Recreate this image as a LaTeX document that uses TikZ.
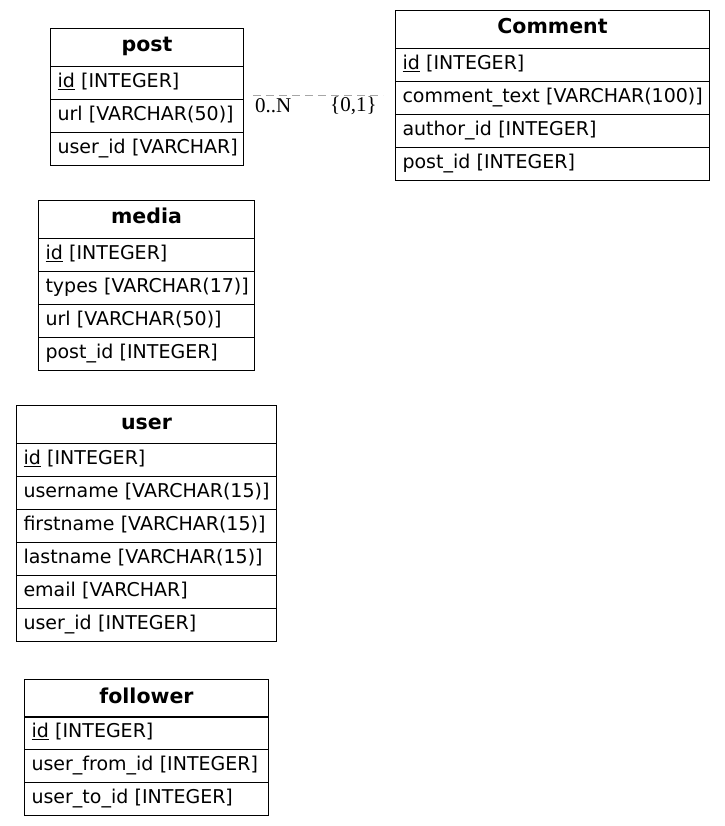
\documentclass[tikz,border=0pt]{standalone}
\usepackage{fontspec}
\setmainfont{DejaVu Sans}
\newfontfamily\lblfont{Liberation Serif}
\begin{document}
\begin{tikzpicture}[x=1pt,y=-1pt,
  cell/.style={draw=black, line width=1pt, anchor=north west, inner ysep=0pt,
    font=\fontsize{19}{22}\selectfont, text height=14pt, text depth=5pt},
  hdr/.style={cell, minimum height=38pt, inner xsep=0pt, align=center, font=\fontsize{20.5}{24}\selectfont\bfseries},
  fld/.style={cell, minimum height=33pt, inner xsep=7pt, align=left},
  rel/.style={draw=gray!70, line width=1pt, dash pattern=on 8pt off 5pt},
  lbl/.style={inner sep=0pt, font=\lblfont\fontsize{21}{24}\selectfont}
]
\useasboundingbox (0,0) rectangle (724,826);
% post
\node[hdr, minimum width=193pt] (post) at (50,28) {post};
\node[fld, text width=179pt] (post1) at (50,66) {\mbox{\underline{id} [INTEGER]}};
\node[fld, text width=179pt] (post2) at (50,99) {\mbox{url [VARCHAR(50)]}};
\node[fld, text width=179pt] (post3) at (50,132) {\mbox{user\_id [VARCHAR]}};
% Comment
\node[hdr, minimum width=314pt] (comment) at (395,10) {Comment};
\node[fld, text width=300pt] (comment1) at (395,48) {\mbox{\underline{id} [INTEGER]}};
\node[fld, text width=300pt] (comment2) at (395,81) {\mbox{comment\_text [VARCHAR(100)]}};
\node[fld, text width=300pt] (comment3) at (395,114) {\mbox{author\_id [INTEGER]}};
\node[fld, text width=300pt] (comment4) at (395,147) {\mbox{post\_id [INTEGER]}};
% media
\node[hdr, minimum width=216pt] (media) at (38,200) {media};
\node[fld, text width=202pt] (media1) at (38,238) {\mbox{\underline{id} [INTEGER]}};
\node[fld, text width=202pt] (media2) at (38,271) {\mbox{types [VARCHAR(17)]}};
\node[fld, text width=202pt] (media3) at (38,304) {\mbox{url [VARCHAR(50)]}};
\node[fld, text width=202pt] (media4) at (38,337) {\mbox{post\_id [INTEGER]}};
% user
\node[hdr, minimum width=260pt] (user) at (16,405) {user};
\node[fld, text width=246pt] (user1) at (16,443) {\mbox{\underline{id} [INTEGER]}};
\node[fld, text width=246pt] (user2) at (16,476) {\mbox{username [VARCHAR(15)]}};
\node[fld, text width=246pt] (user3) at (16,509) {\mbox{firstname [VARCHAR(15)]}};
\node[fld, text width=246pt] (user4) at (16,542) {\mbox{lastname [VARCHAR(15)]}};
\node[fld, text width=246pt] (user5) at (16,575) {\mbox{email [VARCHAR]}};
\node[fld, text width=246pt] (user6) at (16,608) {\mbox{user\_id [INTEGER]}};
% follower
\node[hdr, minimum width=244pt] (follower) at (24,679) {follower};
\node[fld, text width=230pt] (follower1) at (24,716) {\mbox{\underline{id} [INTEGER]}};
\node[fld, text width=230pt] (follower2) at (24,749) {\mbox{user\_from\_id [INTEGER]}};
\node[fld, text width=230pt] (follower3) at (24,782) {\mbox{user\_to\_id [INTEGER]}};
% relation
\coordinate (ca) at (253,96);
\coordinate (cb) at (383,96);
\draw[rel] (ca) -- (cb);
\node[lbl, anchor=west] (l1) at (255,105.5) {0..N};
\node[lbl, anchor=west] (l2) at (330,105.5) {\{0,1\}};
\end{tikzpicture}
\end{document}
